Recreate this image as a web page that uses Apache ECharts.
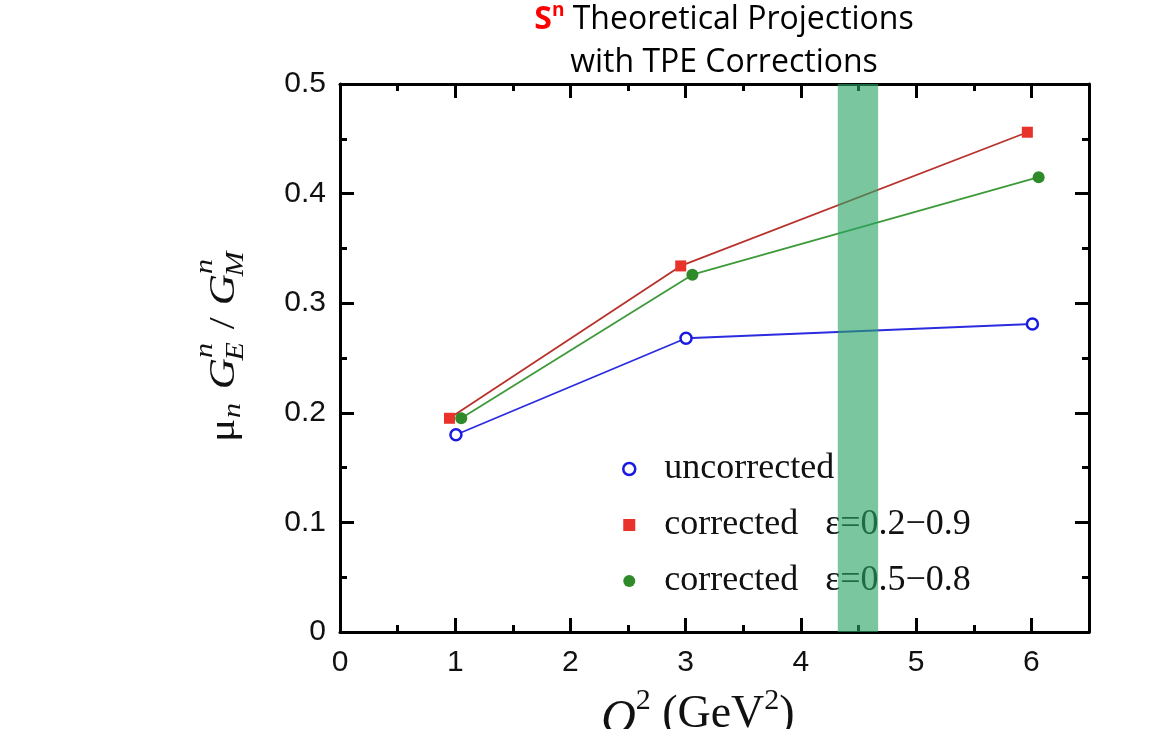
<!DOCTYPE html>
<html>
<head>
<meta charset="utf-8">
<script src="https://cdn.jsdelivr.net/npm/echarts@6/dist/echarts.min.js"></script>
<style>
  html, body { margin: 0; padding: 0; background: #fff; }
  #chart { width: 1155px; height: 729px; }
</style>
</head>
<body>
<div id="chart"></div>
<script>
// values
const uncorrX = [1.006, 3.003, 6.009];
const uncorrY = [0.180, 0.268, 0.281];
const corr29X = [0.950, 2.957, 5.965];
const corr29Y = [0.195, 0.334, 0.456];
const corr58X = [1.052, 3.058, 6.063];
const corr58Y = [0.195, 0.326, 0.415];
const bandRange = [4.32, 4.67];
const seriesNames = ['uncorrected', 'corrected   \u03b5=0.2\u22120.9', 'corrected   \u03b5=0.5\u22120.8'];

function pairs(xs, ys) {
  return xs.map((x, i) => [x, ys[i]]);
}

const chart = echarts.init(document.getElementById('chart'));

const axisCommon = {
  type: 'value',
  axisLine: { show: true, onZero: false, lineStyle: { color: '#000', width: 3 } },
  axisTick: { show: true, inside: true, length: 14, lineStyle: { color: '#000', width: 3 } },
  minorTick: { show: true, splitNumber: 2, length: 7, lineStyle: { color: '#000', width: 3 } },
  splitLine: { show: false },
  minorSplitLine: { show: false }
};
const labelStyle = { fontFamily: '"Liberation Sans", Arial, sans-serif', fontSize: 30, color: '#111' };

const serif = '"Liberation Serif", "Times New Roman", serif';
function yText(t, x, base, size, italic) {
  return {
    type: 'text', x: x, y: base - size * 0.3,
    style: { text: t, font: (italic ? 'italic ' : '') + size + 'px ' + serif, fill: '#111', verticalAlign: 'middle' }
  };
}

const option = {
  backgroundColor: '#fff',
  animation: false,
  title: {
    text: '{s|S}{sup|n} Theoretical Projections\nwith TPE Corrections',
    left: 719, top: -7, textAlign: 'center',
    textStyle: {
      fontFamily: '"Open Sans", sans-serif', fontSize: 32, fontWeight: 'normal', color: '#000', lineHeight: 43,
      rich: {
        s: { fontFamily: '"Open Sans", sans-serif', fontSize: 32, fontWeight: 'bold', color: '#ff0000', lineHeight: 43 },
        sup: { fontFamily: '"Open Sans", sans-serif', fontSize: 19, fontWeight: 'bold', color: '#ff0000', lineHeight: 43, verticalAlign: 'top', padding: [3, 0, 0, 0] }
      }
    }
  },
  grid: { left: 340, right: 66, top: 84, bottom: 97 },
  xAxis: [
    Object.assign({}, axisCommon, {
      min: 0, max: 6.5, interval: 1, position: 'bottom',
      axisLabel: Object.assign({ margin: 16, showMaxLabel: false, formatter: v => (v > 6.1 ? '' : String(v)) }, labelStyle)
    }),
    Object.assign({}, axisCommon, {
      min: 0, max: 6.5, interval: 1, position: 'top',
      axisLabel: { show: false }
    })
  ],
  yAxis: [
    Object.assign({}, axisCommon, {
      min: 0, max: 0.5, interval: 0.1, position: 'left',
      axisLabel: Object.assign({ margin: 14 }, labelStyle)
    }),
    Object.assign({}, axisCommon, {
      min: 0, max: 0.5, interval: 0.1, position: 'right',
      axisLabel: { show: false }
    })
  ],
  legend: {
    orient: 'vertical', left: 617, top: 443, z: 1,
    itemWidth: 12, itemHeight: 12, itemGap: 14,
    selectedMode: false,
    textStyle: { fontFamily: serif, fontSize: 36, color: '#111', lineHeight: 42, padding: [0, 0, 0, 24] },
    data: [
      { name: seriesNames[0], icon: 'circle', itemStyle: { color: '#fff', borderColor: '#1a1ae0', borderWidth: 2.5 } },
      { name: seriesNames[1], icon: 'rect', itemStyle: { color: '#e8322a', borderWidth: 0 } },
      { name: seriesNames[2], icon: 'circle', itemStyle: { color: '#2f8a2a', borderWidth: 0 } }
    ]
  },
  series: [
    {
      name: seriesNames[0], type: 'line', data: pairs(uncorrX, uncorrY), z: 3,
      symbol: 'circle', symbolSize: 11, showAllSymbol: true,
      lineStyle: { color: '#2b2be0', width: 1.8 },
      itemStyle: { color: '#fff', borderColor: '#1a1ae0', borderWidth: 2.5 }
    },
    {
      name: seriesNames[1], type: 'line', data: pairs(corr29X, corr29Y), z: 3,
      symbol: 'rect', symbolSize: 11,
      lineStyle: { color: '#b8322c', width: 1.8 },
      itemStyle: { color: '#e8322a' }
    },
    {
      name: seriesNames[2], type: 'line', data: pairs(corr58X, corr58Y), z: 3,
      symbol: 'circle', symbolSize: 12,
      lineStyle: { color: '#3d9a3a', width: 1.8 },
      itemStyle: { color: '#2f8a2a' }
    },
    {
      name: 'band', type: 'line', data: [], z: 10,
      markArea: {
        silent: true, z: 10,
        itemStyle: { color: 'rgba(40,165,100,0.62)' },
        data: [[{ xAxis: bandRange[0] }, { xAxis: bandRange[1] }]]
      }
    }
  ],
  graphic: [
    {
      type: 'group', x: 235, y: 442, rotation: Math.PI / 2, scaleX: 1.2,
      children: [
        yText('\u03bc', 0, 0, 36, false),
        yText('n', 20, 6, 25, true),
        yText('G', 44, 0, 36, true),
        yText('n', 70, -22, 25, true),
        yText('E', 68, 9, 25, true),
        yText('/', 94, 0, 36, false),
        yText('G', 114, 0, 36, true),
        yText('n', 140, -22, 25, true),
        yText('M', 138, 9, 25, true)
      ]
    },
    {
      type: 'text', left: 601, top: 686,
      style: {
        text: '{q|Q}{s|2} (GeV{s|2})',
        font: '46px ' + serif, fill: '#111',
        rich: {
          q: { fontFamily: serif, fontSize: 48, fontStyle: 'italic', lineHeight: 58, verticalAlign: 'bottom' },
          s: { fontFamily: serif, fontSize: 30, lineHeight: 58, verticalAlign: 'top' }
        }
      }
    }
  ]
};

chart.setOption(option);
</script>
</body>
</html>
